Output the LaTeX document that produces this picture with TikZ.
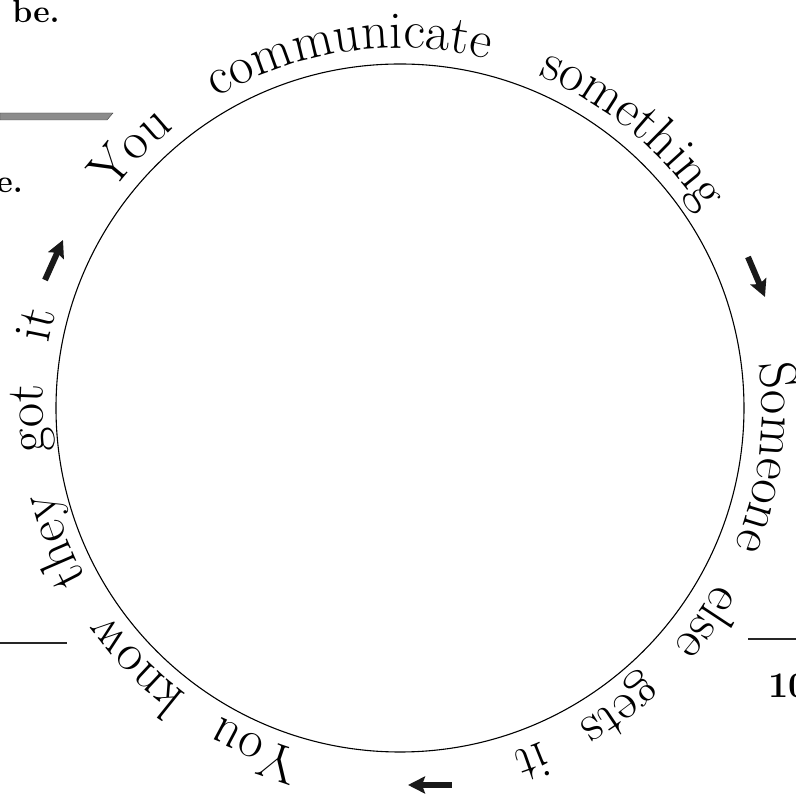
\documentclass[tikz,border=0pt]{standalone}
\usetikzlibrary{arrows.meta,decorations.text}
\newcommand{\ringfont}{\fontsize{53}{60}\selectfont}
\tikzset{
  ringline/.style={line width=1.1pt,draw=black},
  ringtext/.style={
    decorate,
    decoration={text along path,text align=fit to path stretching spaces}
  },
  cyclearrow/.style={
    -{Stealth[length=17pt,width=17pt,inset=3pt]},
    line width=6pt,
    draw=black!90
  },
  pagetext/.style={font=\bfseries\fontsize{32}{38}\selectfont,inner sep=0pt},
  pagerule/.style={line width=1.4pt,draw=black!85}
}
\begin{document}
\begin{tikzpicture}[x=1pt,y=1pt]
    \useasboundingbox (-400,-386) rectangle (396,408);
    \clip (-400,-386) rectangle (396,408);

    % page fragments
    \node[pagetext,anchor=base east] (pagebe) at (-340,385) {be.};
    \node[pagetext,anchor=base east] (pagee) at (-377,215) {e.};
    \fill[black!45,draw=black!75,line width=0.4pt]
      (-400,295) -- (-287,295) -- (-293,288) -- (-400,288) -- cycle;
    \draw[pagerule] (-400,-235) -- (-333,-235);
    \draw[pagerule] (348,-231) -- (396,-231);
    \node[pagetext,font=\bfseries\fontsize{36}{40}\selectfont,anchor=base west]
      (pagenum) at (368,-290) {10};

    % the ring
    \draw[ringline] (0,0) circle[radius=344pt];

    \path[ringtext,decoration={text={|\ringfont|You communicate something}}]
      (143:360pt) arc[start angle=143,end angle=33,radius=360pt];
    \path[ringtext,decoration={text={|\ringfont|Someone else gets it}}]
      (7:362pt) arc[start angle=7,end angle=-72,radius=362pt];
    \path[ringtext,decoration={text={|\ringfont|You know they got it}}]
      (-106:357pt) arc[start angle=-106,end angle=-195.5,radius=357pt];

    % arrows between the steps
    \coordinate (gotfrom) at (-355,128);
    \coordinate (gotto) at (-337,168);
    \coordinate (sentfrom) at (348,151);
    \coordinate (sentto) at (365,111);
    \coordinate (getsfrom) at (52,-377);
    \coordinate (getsto) at (8,-377);
    \draw[cyclearrow] (gotfrom) -- (gotto);
    \draw[cyclearrow] (sentfrom) -- (sentto);
    \draw[cyclearrow] (getsfrom) -- (getsto);
\end{tikzpicture}
\end{document}
